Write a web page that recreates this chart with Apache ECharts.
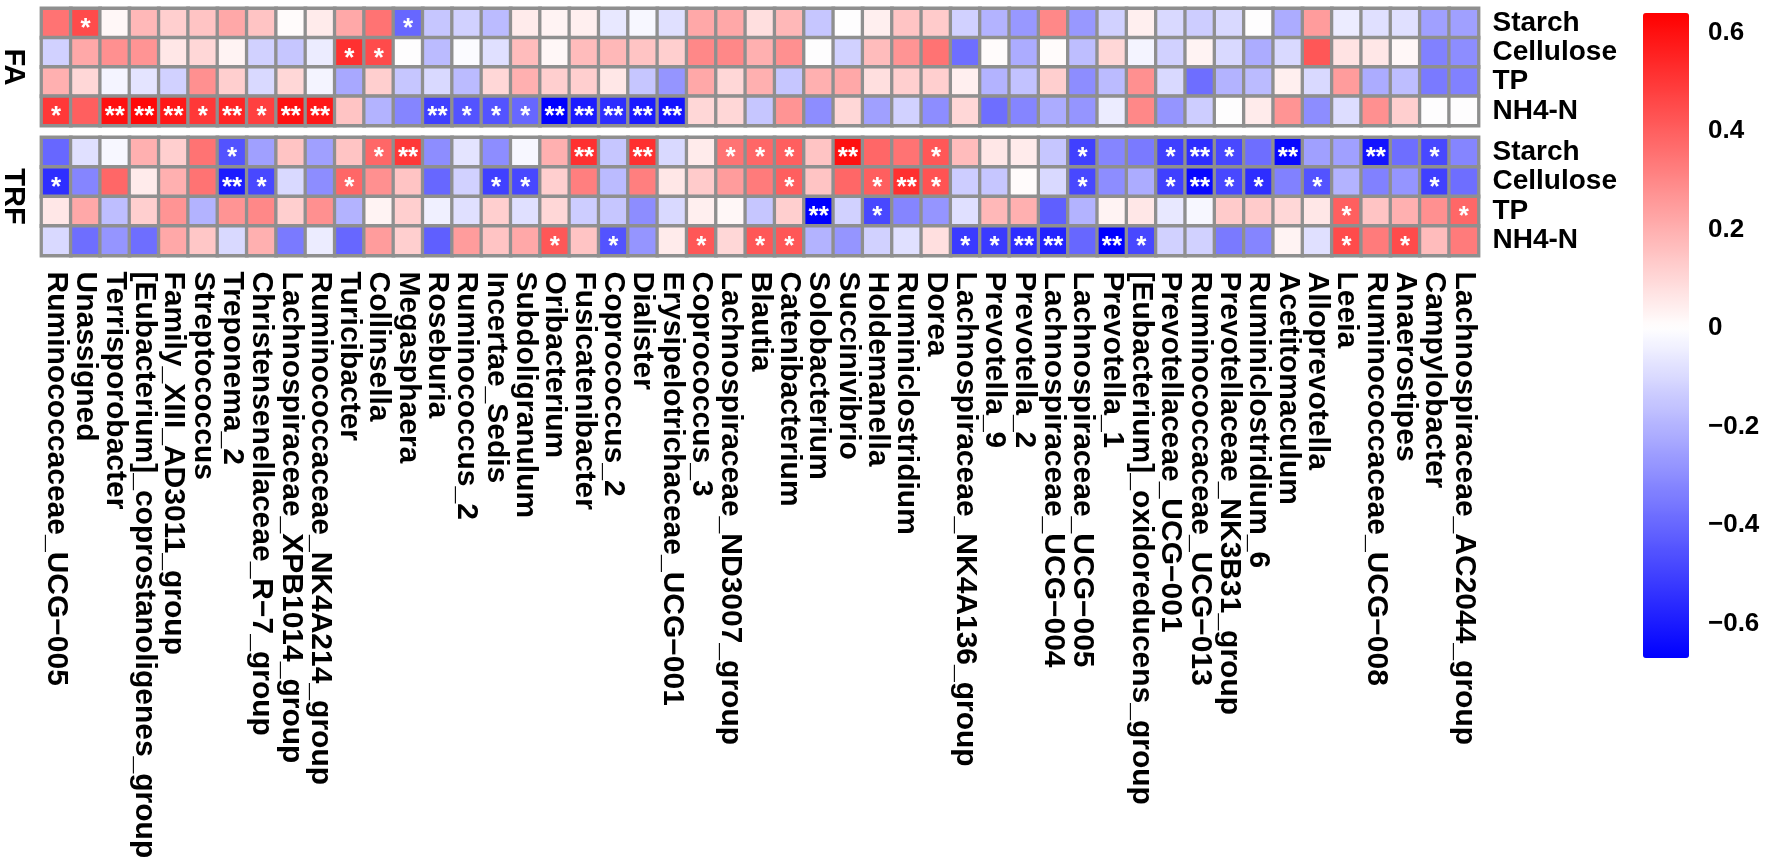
<!DOCTYPE html>
<html><head><meta charset="utf-8">
<script src="https://cdn.jsdelivr.net/npm/echarts@6/dist/echarts.min.js"></script>
<style>html,body{margin:0;padding:0;background:#fff}#c{width:1772px;height:862px}</style>
</head><body><div id="c"></div>
<script>
const genera = ['Ruminococcaceae_UCG-005','Unassigned','Terrisporobacter','[Eubacterium]_coprostanoligenes_group','Family_XIII_AD3011_group','Streptococcus','Treponema_2','Christensenellaceae_R-7_group','Lachnospiraceae_XPB1014_group','Ruminococcaceae_NK4A214_group',
'Turicibacter','Collinsella','Megasphaera','Roseburia','Ruminococcus_2','Incertae_Sedis','Subdoligranulum','Oribacterium','Fusicatenibacter','Coprococcus_2',
'Dialister','Erysipelotrichaceae_UCG-001','Coprococcus_3','Lachnospiraceae_ND3007_group','Blautia','Catenibacterium','Solobacterium','Succinivibrio','Holdemanella','Ruminiclostridium',
'Dorea','Lachnospiraceae_NK4A136_group','Prevotella_9','Prevotella_2','Lachnospiraceae_UCG-004','Lachnospiraceae_UCG-005','Prevotella_1','[Eubacterium]_oxidoreducens_group','Prevotellaceae_UCG-001','Ruminococcaceae_UCG-013',
'Prevotellaceae_NK3B31_group','Ruminiclostridium_6','Acetitomaculum','Alloprevotella','Leeia','Ruminococcaceae_UCG-008','Anaerostipes','Campylobacter','Lachnospiraceae_AC2044_group'];
const variables = ['Starch','Cellulose','TP','NH4-N'];
const panels = ['FA','TRF'];
const colorbarTicks = [-0.6,-0.4,-0.2,0,0.2,0.4,0.6];
const scaleMin = -0.67, scaleMax = 0.64;

// FA correlations
const faStarch = [0.35,0.45,0.02,0.18,0.12,0.15,0.22,0.15,0.01,0.05, 0.22,0.35,-0.4,-0.15,-0.12,-0.18,0.05,0.03,0.04,-0.06, -0.02,-0.08,0.22,0.22,0.08,0.18,-0.15,0.0,0.04,0.15, 0.13,-0.12,-0.2,-0.27,0.3,-0.27,-0.12,0.04,-0.1,-0.13, -0.1,0.0,-0.22,0.25,-0.05,-0.08,-0.08,-0.25,-0.25];
const faCellulose = [-0.12,0.22,0.28,0.27,0.06,0.1,0.03,-0.12,-0.15,-0.05, 0.52,0.45,0.0,-0.18,-0.01,-0.08,0.17,0.02,0.17,0.18, 0.15,0.12,0.3,0.3,0.2,0.28,0.0,-0.12,0.17,0.27, 0.35,-0.38,0.01,-0.22,0.01,-0.17,0.1,-0.03,-0.12,0.03, -0.1,-0.22,-0.1,0.42,0.07,0.06,0.02,-0.33,-0.3];
const faTP = [0.2,0.1,-0.03,-0.07,-0.12,0.28,0.12,-0.1,0.1,-0.03, -0.23,0.12,-0.15,-0.1,-0.18,0.1,0.2,0.12,0.12,0.06, -0.15,-0.28,0.22,0.1,0.2,-0.15,0.2,0.22,0.08,0.12, 0.12,0.04,-0.2,-0.16,0.12,-0.3,-0.18,0.28,-0.1,-0.38, -0.2,-0.18,0.04,-0.1,0.25,-0.22,-0.17,-0.35,-0.33];
const faNH4N = [0.5,0.4,0.6,0.62,0.58,0.5,0.55,0.48,0.6,0.58, 0.15,-0.2,-0.32,-0.5,-0.45,-0.45,-0.4,-0.67,-0.6,-0.55, -0.6,-0.62,0.1,0.1,-0.15,0.27,-0.3,0.1,-0.25,-0.12, -0.3,0.1,-0.38,-0.32,-0.22,-0.28,-0.05,0.3,-0.28,-0.13, 0.0,0.05,0.27,-0.3,-0.09,0.28,0.12,0.0,0.0];
// TRF correlations
const trfStarch = [-0.4,-0.08,-0.02,0.2,0.12,0.35,-0.45,-0.25,0.15,-0.25, 0.15,0.38,0.5,-0.3,-0.07,-0.3,-0.02,0.2,0.52,-0.15, 0.52,-0.1,0.05,0.35,0.38,0.4,0.15,0.6,0.38,0.35, 0.42,0.17,0.06,0.05,-0.15,-0.5,-0.32,-0.35,-0.5,-0.55, -0.48,-0.38,-0.65,-0.25,-0.25,-0.62,-0.38,-0.48,-0.32];
const trfCellulose = [-0.55,-0.32,0.38,0.05,0.2,0.35,-0.6,-0.48,-0.1,-0.3, 0.38,0.28,0.15,-0.4,-0.12,-0.5,-0.48,0.12,0.32,-0.18, 0.32,0.06,0.13,0.25,0.33,0.4,0.15,0.38,0.4,0.52, 0.43,-0.13,-0.15,0.01,-0.1,-0.48,-0.3,-0.22,-0.5,-0.65, -0.48,-0.55,-0.33,-0.45,-0.2,-0.33,-0.28,-0.5,-0.38];
const trfTP = [0.06,0.22,-0.17,0.12,0.27,-0.2,0.27,0.3,0.12,0.28, -0.2,0.03,0.12,-0.04,-0.08,0.12,-0.08,0.1,-0.13,-0.15, -0.3,-0.1,0.04,0.02,-0.15,0.12,-0.67,-0.12,-0.48,-0.32, -0.28,-0.08,0.18,0.2,-0.42,-0.2,0.03,0.06,-0.06,-0.02, 0.13,0.13,0.1,0.06,0.4,0.15,0.2,0.28,0.38];
const trfNH4N = [-0.1,-0.38,-0.28,-0.38,0.22,0.14,-0.1,0.2,-0.35,-0.05, -0.4,0.25,0.12,-0.42,0.25,0.15,0.22,0.42,0.15,-0.45, -0.28,0.05,0.42,0.1,0.42,0.42,-0.2,-0.28,-0.12,-0.08, 0.08,-0.52,-0.52,-0.55,-0.58,-0.4,-0.67,-0.48,-0.12,-0.12, -0.35,-0.32,0.03,-0.08,0.45,0.33,0.45,0.17,0.33];

// significance levels (1 = *, 2 = **)
const faStarchSig = [0,1,0,0,0,0,0,0,0,0, 0,0,1,0,0,0,0,0,0,0, 0,0,0,0,0,0,0,0,0,0, 0,0,0,0,0,0,0,0,0,0, 0,0,0,0,0,0,0,0,0];
const faCelluloseSig = [0,0,0,0,0,0,0,0,0,0, 1,1,0,0,0,0,0,0,0,0, 0,0,0,0,0,0,0,0,0,0, 0,0,0,0,0,0,0,0,0,0, 0,0,0,0,0,0,0,0,0];
const faTPSig = [0,0,0,0,0,0,0,0,0,0, 0,0,0,0,0,0,0,0,0,0, 0,0,0,0,0,0,0,0,0,0, 0,0,0,0,0,0,0,0,0,0, 0,0,0,0,0,0,0,0,0];
const faNH4NSig = [1,0,2,2,2,1,2,1,2,2, 0,0,0,2,1,1,1,2,2,2, 2,2,0,0,0,0,0,0,0,0, 0,0,0,0,0,0,0,0,0,0, 0,0,0,0,0,0,0,0,0];
const trfStarchSig = [0,0,0,0,0,0,1,0,0,0, 0,1,2,0,0,0,0,0,2,0, 2,0,0,1,1,1,0,2,0,0, 1,0,0,0,0,1,0,0,1,2, 1,0,2,0,0,2,0,1,0];
const trfCelluloseSig = [1,0,0,0,0,0,2,1,0,0, 1,0,0,0,0,1,1,0,0,0, 0,0,0,0,0,1,0,0,1,2, 1,0,0,0,0,1,0,0,1,2, 1,1,0,1,0,0,0,1,0];
const trfTPSig = [0,0,0,0,0,0,0,0,0,0, 0,0,0,0,0,0,0,0,0,0, 0,0,0,0,0,0,2,0,1,0, 0,0,0,0,0,0,0,0,0,0, 0,0,0,0,1,0,0,0,1];
const trfNH4NSig = [0,0,0,0,0,0,0,0,0,0, 0,0,0,0,0,0,0,1,0,1, 0,0,1,0,1,1,0,0,0,0, 0,1,1,2,2,0,2,1,0,0, 0,0,0,0,1,0,1,0,0];

const panelValues = [[faStarch,faCellulose,faTP,faNH4N],[trfStarch,trfCellulose,trfTP,trfNH4N]];
const panelSig = [[faStarchSig,faCelluloseSig,faTPSig,faNH4NSig],[trfStarchSig,trfCelluloseSig,trfTPSig,trfNH4NSig]];

function colorAt(v){
  let r,g,b;
  if(v<0){const t=Math.min(1,v/scaleMin); r=g=Math.round(255*(1-t)); b=255;}
  else {const t=Math.min(1,v/scaleMax); r=255; g=b=Math.round(255*(1-t));}
  return 'rgb('+r+','+g+','+b+')';
}
const stops=[]; const N=131;
for(let i=0;i<N;i++){stops.push(colorAt(scaleMin+(scaleMax-scaleMin)*i/(N-1)));}

const FONT='Liberation Sans';
const grids=[
  {left:41.5, width:1437, top:8.5, height:117, containLabel:false, outerBoundsMode:'none'},
  {left:41.5, width:1437, top:137.5, height:118, containLabel:false, outerBoundsMode:'none'},
  {left:1643, width:46, top:13, height:645, containLabel:false, outerBoundsMode:'none'}
];
const xAxes=[0,1].map(i=>({
  type:'category', gridIndex:i, data:genera, position:'bottom',
  axisLine:{show:false}, axisTick:{show:false}, splitLine:{show:false},
  axisLabel: i===0?{show:false}:{show:true, interval:0, rotate:-90, margin:16, color:'#000', fontFamily:FONT, fontWeight:'bold', fontSize:30,
    formatter:s=>s.replace(/-/g,'\u2212')}
}));
xAxes.push({type:'value', gridIndex:2, show:false, min:0, max:1});
const yAxes=[];
[0,1].forEach(i=>{
  yAxes.push({type:'category', gridIndex:i, data:variables, inverse:true, position:'right',
    axisLine:{show:false}, axisTick:{show:false}, splitLine:{show:false},
    axisLabel:{interval:0, margin:14, color:'#000', fontFamily:FONT, fontWeight:'bold', fontSize:28, hideOverlap:false}});
});
[0,1].forEach(i=>{
  yAxes.push({type:'category', gridIndex:i, data:variables, inverse:true, position:'left',
    axisLine:{show:false}, axisTick:{show:false}, axisLabel:{show:false}, splitLine:{show:false},
    name:panels[i], nameLocation:'middle', nameRotate:-90, nameGap:14,
    nameTextStyle:{color:'#000', fontFamily:FONT, fontWeight:'bold', fontSize:29}});
});
yAxes.push({type:'value', gridIndex:2, position:'right', min:scaleMin, max:scaleMax,
  axisLine:{show:false}, axisTick:{show:false}, splitLine:{show:false},
  axisLabel:{show:true, customValues:colorbarTicks, margin:19, align:'left', color:'#000', fontFamily:FONT, fontWeight:'bold', fontSize:26,
    formatter:v=>{const a=Math.round(v*10)/10; return a===0?'0':(a<0?'\u2212'+Math.abs(a).toFixed(1):a.toFixed(1));}}});

const series=[0,1].map(p=>{
  const data=[];
  panelValues[p].forEach((rowVals,r)=>rowVals.forEach((v,c)=>data.push([c,r,v])));
  return {type:'heatmap', xAxisIndex:p, yAxisIndex:p, data:data,
    itemStyle:{borderColor:'#8f8f8f', borderWidth:3.3},
    label:{show:true, color:'#fff', fontFamily:FONT, fontWeight:'bold', fontSize:26, offset:[0,6],
      formatter:q=>'*'.repeat(panelSig[p][q.data[1]][q.data[0]])},
    emphasis:{disabled:true}, animation:false};
});

const chart=echarts.init(document.getElementById('c'),null,{renderer:'canvas'});
chart.setOption({
  backgroundColor:'#fff', animation:false,
  grid:grids, xAxis:xAxes, yAxis:yAxes, series:series,
  visualMap:{type:'continuous', min:scaleMin, max:scaleMax, dimension:2, seriesIndex:[0,1],
    calculable:false, realtime:false, hoverLink:false, left:1643, top:13, padding:0,
    itemWidth:46, itemHeight:645, text:null, showLabel:false, inRange:{color:stops}}
});
</script></body></html>
